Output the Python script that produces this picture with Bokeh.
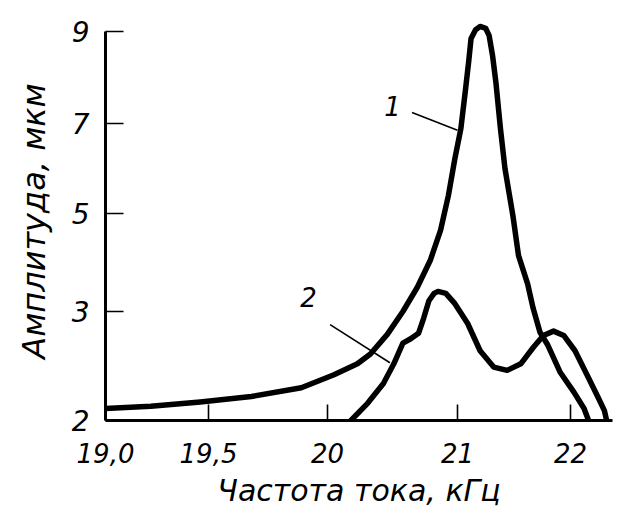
import numpy as np
from bokeh.plotting import figure
from bokeh.models import FixedTicker, Label, Range1d
from bokeh.embed import file_html
from bokeh.resources import INLINE

# частота тока, кГц, и амплитуда колебаний, мкм
freq_1 = [19.00, 19.22, 19.46, 19.68, 19.89, 20.05, 20.23, 20.33, 20.46, 20.58,
          20.69, 20.79, 20.87, 20.93, 20.98, 21.03, 21.07, 21.10, 21.12, 21.16,
          21.20, 21.25, 21.28, 21.31, 21.34, 21.38, 21.42, 21.49, 21.54, 21.62,
          21.67, 21.73, 21.80, 21.91, 22.03, 22.12, 22.16]
amp_1 = [2.11, 2.13, 2.17, 2.22, 2.30, 2.42, 2.52, 2.61, 2.79, 3.00,
         3.49, 4.04, 4.66, 5.40, 6.22, 6.89, 7.72, 8.37, 8.85, 9.04,
         9.11, 9.07, 8.91, 8.48, 7.89, 6.89, 6.00, 4.96, 4.14, 3.57,
         3.06, 2.81, 2.69, 2.44, 2.26, 2.11, 2.00]

freq_2 = [20.18, 20.31, 20.43, 20.51, 20.58, 20.64, 20.70, 20.74, 20.78, 20.82,
          20.85, 20.91, 20.98, 21.09, 21.20, 21.32, 21.44, 21.56, 21.67, 21.76,
          21.85, 21.94, 22.04, 22.16, 22.25, 22.30, 22.32]
amp_2 = [2.00, 2.16, 2.34, 2.52, 2.71, 2.75, 2.80, 2.94, 3.22, 3.37,
         3.41, 3.37, 3.16, 2.89, 2.64, 2.49, 2.46, 2.52, 2.67, 2.78,
         2.82, 2.78, 2.64, 2.39, 2.20, 2.09, 2.00]

x_ticks = [19.0, 19.5, 20.0, 21.0, 22.0]
x_tick_labels = ["19,0", "19,5", "20", "21", "22"]
y_ticks = [2, 3, 5, 7, 9]
y_tick_labels = ["2", "3", "5", "7", "9"]

# the axes are drawn with uneven spacing between ticks
x_axis_pos = [0, 103, 222, 352, 465]
y_axis_pos = [0, 109, 207, 297, 389]


def to_axis(v, ticks, pos):
    v = np.asarray(v, dtype=float)
    out = np.interp(v, ticks, pos)
    lo = (pos[1] - pos[0]) / (ticks[1] - ticks[0])
    hi = (pos[-1] - pos[-2]) / (ticks[-1] - ticks[-2])
    out = np.where(v < ticks[0], pos[0] + (v - ticks[0]) * lo, out)
    out = np.where(v > ticks[-1], pos[-1] + (v - ticks[-1]) * hi, out)
    return out


def X(v):
    return to_axis(v, x_ticks, x_axis_pos)


def Y(v):
    return to_axis(v, y_ticks, y_axis_pos)


FONT = "DejaVu Sans"

p = figure(width=617, height=513, output_backend="svg", toolbar_location=None,
           x_range=Range1d(0, 507), y_range=Range1d(0, 399),
           min_border_left=105, min_border_right=5,
           min_border_top=21, min_border_bottom=93)
p.outline_line_color = None
p.xgrid.visible = False
p.ygrid.visible = False
p.background_fill_color = "white"
p.border_fill_color = "white"

# curves
p.line(X(freq_1), Y(amp_1), line_width=5.5, line_color="black",
       line_join="round", line_cap="round")
p.line(X(freq_2), Y(amp_2), line_width=5.5, line_color="black",
       line_join="round", line_cap="round")

# leader lines and curve numbers
p.line(X([20.65, 21.0]), Y([7.24, 6.85]), line_width=1.6, line_color="black")
p.line(X([20.02, 20.48]), Y([2.88, 2.53]), line_width=1.6, line_color="black")
for txt, fx, ay in [("1", 20.50, 7.39), ("2", 19.92, 3.29)]:
    p.add_layout(Label(x=float(X([fx])[0]), y=float(Y([ay])[0]), text=txt,
                       text_font=FONT, text_font_style="italic",
                       text_font_size="26px", text_align="center",
                       text_baseline="middle", text_color="black"))

# x axis
xa = p.xaxis[0]
xa.ticker = FixedTicker(ticks=[float(v) for v in X(x_ticks)])
xa.major_label_overrides = {float(v): s for v, s in zip(X(x_ticks), x_tick_labels)}
xa.axis_label = "Частота тока, кГц"
xa.axis_label_text_font = FONT
xa.axis_label_text_font_style = "italic"
xa.axis_label_text_font_size = "30px"
xa.axis_label_text_color = "black"
xa.axis_label_standoff = 7
xa.major_label_text_font = FONT
xa.major_label_text_font_style = "italic"
xa.major_label_text_font_size = "26px"
xa.major_label_text_color = "black"
xa.major_label_standoff = 22
xa.major_tick_in = 16
xa.major_tick_out = 0
xa.major_tick_line_width = 1.6
xa.minor_tick_line_color = None
xa.axis_line_width = 3

# y axis
ya = p.yaxis[0]
ya.ticker = FixedTicker(ticks=[float(v) for v in Y(y_ticks)])
ya.major_label_overrides = {float(v): s for v, s in zip(Y(y_ticks), y_tick_labels)}
ya.bounds = (0, float(Y([9])[0]))
ya.axis_label = "Амплитуда, мкм"
ya.axis_label_text_font = FONT
ya.axis_label_text_font_style = "italic"
ya.axis_label_text_font_size = "32px"
ya.axis_label_text_color = "black"
ya.axis_label_standoff = 16
ya.major_label_text_font = FONT
ya.major_label_text_font_style = "italic"
ya.major_label_text_font_size = "28px"
ya.major_label_text_color = "black"
ya.major_label_standoff = 16
ya.major_label_orientation = "horizontal"
ya.major_tick_in = 18
ya.major_tick_out = 0
ya.major_tick_line_width = 1.6
ya.minor_tick_line_color = None
ya.axis_line_width = 3

open("out.html", "w").write(file_html(p, INLINE))
